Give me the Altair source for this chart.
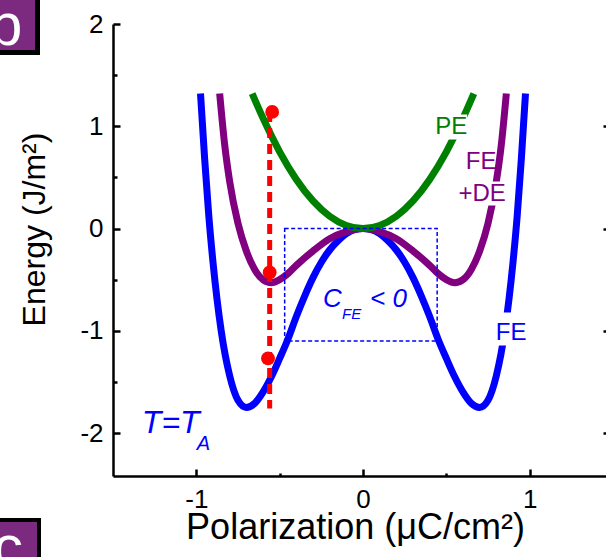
import altair as alt
import pandas as pd

# ---------------- data ----------------
# FE (blue) curve
P_FE = [-0.975, -0.95, -0.925, -0.9, -0.85, -0.8, -0.75, -0.7, -0.65, -0.6, -0.55, -0.5,
        -0.45, -0.4, -0.35, -0.3, -0.25, -0.2, -0.15, -0.1, -0.05, 0.0,
        0.05, 0.1, 0.15, 0.2, 0.25, 0.3, 0.35, 0.4, 0.45, 0.5, 0.55, 0.6, 0.65,
        0.7, 0.75, 0.8, 0.85, 0.9, 0.925, 0.95, 0.975]
E_FE = [1.32, 0.68, 0.12, -0.33, -1.01, -1.44, -1.68, -1.75, -1.71, -1.60, -1.45, -1.27,
        -1.08, -0.86, -0.66, -0.48, -0.33, -0.21, -0.12, -0.05, -0.01, 0.0,
        -0.01, -0.05, -0.12, -0.21, -0.33, -0.48, -0.66, -0.86, -1.08, -1.27, -1.45, -1.60, -1.71,
        -1.75, -1.68, -1.44, -1.01, -0.33, 0.12, 0.68, 1.32]

# FE+DE (purple) curve
P_FEDE = [-0.86, -0.83, -0.8, -0.75, -0.7, -0.65, -0.6, -0.55, -0.5, -0.45, -0.4, -0.3, -0.2, -0.1, 0.0,
          0.1, 0.2, 0.3, 0.4, 0.45, 0.5, 0.55, 0.6, 0.65, 0.7, 0.75, 0.8, 0.83, 0.86]
E_FEDE = [1.32, 0.82, 0.46, 0.05, -0.22, -0.40, -0.50, -0.53, -0.50, -0.44, -0.36, -0.22, -0.10, -0.03, 0.0,
          -0.03, -0.10, -0.22, -0.36, -0.44, -0.50, -0.53, -0.50, -0.40, -0.22, 0.05, 0.46, 0.82, 1.32]

# PE (green) curve
P_PE = [-0.665, -0.6, -0.5, -0.4, -0.3, -0.2, -0.1, 0.0, 0.1, 0.2, 0.3, 0.4, 0.5, 0.6, 0.665]
E_PE = [1.32, 1.08, 0.75, 0.48, 0.27, 0.12, 0.03, 0.0, 0.03, 0.12, 0.27, 0.48, 0.75, 1.08, 1.32]

# red operating points and dashed guide
DOT_P = [-0.545, -0.56, -0.57]
DOT_E = [1.14, -0.43, -1.27]
GUIDE_P = [-0.56]
GUIDE_TOP = [1.14]
GUIDE_BOTTOM = [-1.76]

# negative-capacitance box
BOX_P = [-0.47, 0.445]
BOX_E = [-1.10, 0.0]

# white label backgrounds that interrupt the curves (PE, +DE, FE)
MASK_P1 = [0.432, 0.571, 0.793]
MASK_P2 = [0.625, 0.865, 0.991]
MASK_E1 = [0.87, 0.225, -1.144]
MASK_E2 = [1.114, 0.459, -0.821]

# axis ticks
X_TICKS = [-1, 0, 1]
X_MINOR = [-0.5, 0.5]
Y_TICKS = [-2, -1, 0, 1, 2]
Y_MINOR = [-1.5, -0.5, 0.5, 1.5]
Y_RIGHT = [-2, -1, 0, 1]

# annotation labels
LAB_TEXT = ["PE", "FE", "+DE", "FE"]
LAB_P = [0.529, 0.709, 0.715, 0.889]
LAB_E = [0.99, 0.655, 0.342, -1.02]
LAB_COLOR = ["#008000", "#800080", "#800080", "#0000FF"]

IT_TEXT = ["C", "FE", "< 0", "T=T", "A"]
IT_P = [-0.240, -0.126, 0.042, -1.327, -0.997]
IT_E = [-0.772, -0.88, -0.772, -2.004, -2.17]
IT_SIZE = [26, 15, 26, 32, 20]

FONT = "Liberation Sans"

# ---------------- scales / frames ----------------
xs = alt.Scale(domain=[-1.5, 1.458], nice=False, zero=False)
ys = alt.Scale(domain=[-2.42, 2.0], nice=False, zero=False)

df_fe = pd.DataFrame({"P": P_FE, "E": E_FE})
df_fede = pd.DataFrame({"P": P_FEDE, "E": E_FEDE})
df_pe = pd.DataFrame({"P": P_PE, "E": E_PE})
df_dot = pd.DataFrame({"P": DOT_P, "E": DOT_E})
df_guide = pd.DataFrame({"P": GUIDE_P, "E1": GUIDE_TOP, "E2": GUIDE_BOTTOM})
df_box = pd.DataFrame({"P1": [BOX_P[0]], "P2": [BOX_P[1]], "E1": [BOX_E[0]], "E2": [BOX_E[1]]})
df_mask = pd.DataFrame({"P1": MASK_P1, "P2": MASK_P2, "E1": MASK_E1, "E2": MASK_E2})
df_lab = pd.DataFrame({"P": LAB_P, "E": LAB_E, "t": LAB_TEXT, "c": LAB_COLOR})
df_it = pd.DataFrame({"P": IT_P, "E": IT_E, "t": IT_TEXT, "s": IT_SIZE})

main_x_axis = alt.Axis(values=X_TICKS, labelExpr="'' + datum.value", ticks=False, tickSize=0,
                       labelPadding=31, labelBaseline="alphabetic", labelFontSize=26,
                       labelFont=FONT, labelColor="black", domainColor="black", domainWidth=2.5,
                       grid=False, title="Polarization (μC/cm²)", titleFont=FONT, titleFontSize=36,
                       titleFontWeight="normal", titleColor="black", titleX=242, titleY=62,
                       titleBaseline="alphabetic", titleAlign="center", orient="bottom")
main_y_axis = alt.Axis(values=Y_TICKS, labelExpr="'' + datum.value", ticks=False, tickSize=0,
                       labelPadding=10, labelFontSize=26, labelFont=FONT, labelColor="black",
                       domainColor="black", domainWidth=2.5, grid=False,
                       title="Energy (J/m²)", titleFont=FONT, titleFontSize=32,
                       titleFontWeight="normal", titleColor="black", titleX=-79, titleY=205,
                       titleAngle=270, titleBaseline="middle", titleAlign="center", orient="left")


def tick_axis(vals, orient, size, off):
    return alt.Axis(values=vals, orient=orient, offset=off, tickSize=size, tickWidth=2.5,
                    tickColor="black", labels=False, domain=False, grid=False, title="")


def X(field="P", axis=None):
    if axis is None:
        return alt.X(f"{field}:Q", scale=xs, axis=None)
    return alt.X(f"{field}:Q", scale=xs, axis=axis)


def Y(field="E", axis=None):
    if axis is None:
        return alt.Y(f"{field}:Q", scale=ys, axis=None)
    return alt.Y(f"{field}:Q", scale=ys, axis=axis)


fe_line = alt.Chart(df_fe).mark_line(color="#0000FF", strokeWidth=7, interpolate="monotone").encode(
    x=X(axis=main_x_axis), y=Y(axis=main_y_axis))
fede_line = alt.Chart(df_fede).mark_line(color="#800080", strokeWidth=7, interpolate="monotone").encode(
    x=X(), y=Y())
pe_line = alt.Chart(df_pe).mark_line(color="#008000", strokeWidth=7, interpolate="monotone").encode(
    x=X(), y=Y())

masks = alt.Chart(df_mask).mark_rect(color="white").encode(
    x=X("P1"), x2="P2", y=Y("E1"), y2="E2")

box = alt.Chart(df_box).mark_rect(fill=None, stroke="#0000FF", strokeWidth=1.5,
                                  strokeDash=[4, 2.5]).encode(
    x=X("P1"), x2="P2", y=Y("E1"), y2="E2")

guide = alt.Chart(df_guide).mark_rule(color="#FF0000", strokeWidth=5, strokeDash=[10, 6]).encode(
    x=X("P"), y=Y("E1"), y2="E2")

dots = alt.Chart(df_dot).mark_circle(color="#FF0000", size=190, opacity=1).encode(x=X(), y=Y())

labels = alt.Chart(df_lab).mark_text(font=FONT, fontSize=24, align="center", baseline="middle").encode(
    x=X(), y=Y(), text="t:N", color=alt.Color("c:N", scale=None))

italics = alt.Chart(df_it).mark_text(font=FONT, fontStyle="italic", align="left", baseline="alphabetic",
                                     color="#0000FF").encode(
    x=X(), y=Y(), text="t:N", size=alt.Size("s:Q", scale=None))

major_ticks = alt.Chart(df_fe).mark_point(opacity=0, size=1).encode(
    x=X(axis=tick_axis(X_TICKS, "bottom", 7, -7)), y=Y(axis=tick_axis(Y_TICKS, "left", 7, -7)))
minor_ticks = alt.Chart(df_fe).mark_point(opacity=0, size=1).encode(
    x=X(axis=tick_axis(X_MINOR, "bottom", 3, -3)), y=Y(axis=tick_axis(Y_MINOR, "left", 4, -4)))
right_ticks = alt.Chart(df_fe).mark_point(opacity=0, size=1).encode(
    x=X(), y=Y(axis=tick_axis(Y_RIGHT, "right", 3, -3)))

# panel tags (b at top-left, c at bottom-left), partially cropped like the reference
panel = pd.DataFrame({"k": [0]})
tag_b_shadow = alt.Chart(panel).mark_rect(color="black").encode(
    x=alt.value(-113), x2=alt.value(-73), y=alt.value(-24), y2=alt.value(31))
tag_b_box = alt.Chart(panel).mark_rect(color="#7b2a7f").encode(
    x=alt.value(-113), x2=alt.value(-78), y=alt.value(-24), y2=alt.value(26))
tag_b_text = alt.Chart(panel).mark_text(text="b", font=FONT, fontSize=60, color="white",
                                        align="left", baseline="alphabetic").encode(
    x=alt.value(-124), y=alt.value(21))
tag_c_shadow = alt.Chart(panel).mark_rect(color="black").encode(
    x=alt.value(-113), x2=alt.value(-72), y=alt.value(494), y2=alt.value(540))
tag_c_box = alt.Chart(panel).mark_rect(color="#7b2a7f").encode(
    x=alt.value(-113), x2=alt.value(-76), y=alt.value(498), y2=alt.value(540))
tag_c_text = alt.Chart(panel).mark_text(text="c", font=FONT, fontSize=60, color="white",
                                        align="left", baseline="alphabetic").encode(
    x=alt.value(-120), y=alt.value(543))

chart = alt.layer(
    fe_line, fede_line, pe_line, masks, box, guide, dots, labels, italics,
    major_ticks, minor_ticks, right_ticks,
    tag_b_shadow, tag_b_box, tag_b_text, tag_c_shadow, tag_c_box, tag_c_text,
).resolve_axis(x="independent", y="independent").properties(
    width=493, height=452,
    autosize=alt.AutoSizeParams(type="none"),
    padding={"left": 113, "top": 24, "right": 0, "bottom": 81},
    background="white",
).configure_view(stroke=None)

chart.save("out.html", embed_options={"renderer": "svg", "actions": False})
